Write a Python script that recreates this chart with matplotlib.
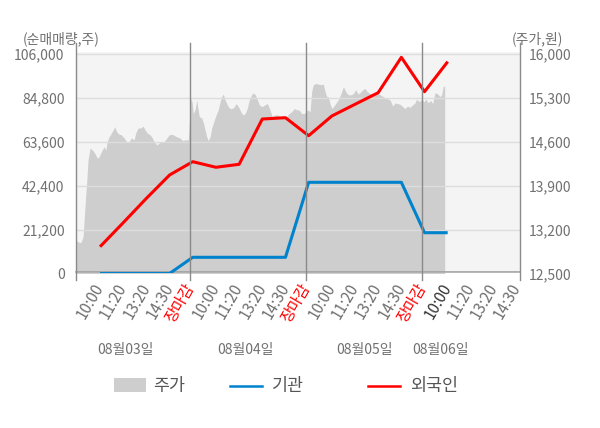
import matplotlib
matplotlib.use("Agg")
import matplotlib.pyplot as plt
from matplotlib.patches import Rectangle
from matplotlib.lines import Line2D

plt.rcParams['font.family'] = ['Noto Sans CJK KR', 'DejaVu Sans']

# ---------------- data ----------------
tick_labels = ["10:00", "11:20", "13:20", "14:30", "장마감"] * 3 + ["10:00", "11:20", "13:20", "14:30"]
tick_pos = [1, 2, 3, 4, 4.9, 6, 7, 8, 9, 9.9, 11, 12, 13, 14, 14.9, 16, 17, 18, 19]
day_labels = ["08월03일", "08월04일", "08월05일", "08월06일"]
day_label_pos = [2.08, 7.26, 12.43, 15.7]
day_bounds = [4.9, 9.9, 14.9]

flow_pos = list(range(1, 17))
foreign = [12940, 24530, 36300, 47570, 54000, 51290, 52730, 74600,
           75240, 66550, 76060, 81700, 87310, 104400, 87800, 102300]
inst = [0, 0, 0, 0, 7820, 7820, 7820, 7820,
        7820, 44040, 44040, 44040, 44040, 44040, 19700, 19700]

price_pos = [
    -0.05, 0.02, 0.17, 0.27, 0.34, 0.43, 0.48, 0.57, 0.67, 0.77, 0.88, 0.96,
    1.03, 1.10, 1.17, 1.25, 1.31, 1.39, 1.49, 1.57, 1.63, 1.72, 1.82, 1.92,
    2.04, 2.15, 2.25, 2.35, 2.47, 2.54, 2.64, 2.76, 2.86, 2.94, 3.04, 3.16,
    3.26, 3.33, 3.45, 3.55, 3.64, 3.76, 3.88, 3.98, 4.08, 4.16,
    4.31, 4.45, 4.56, 4.67, 4.81, 4.91, 4.97, 5.02, 5.10, 5.17, 5.21, 5.28,
    5.39, 5.46, 5.53, 5.60, 5.67, 5.75, 5.82, 5.89, 5.96, 6.03, 6.10, 6.18,
    6.25, 6.32, 6.39, 6.47, 6.53, 6.61, 6.68, 6.78, 6.87, 6.97, 7.07, 7.16,
    7.26, 7.35, 7.44, 7.54, 7.61, 7.70, 7.79, 7.87, 7.98, 8.12, 8.22,
    8.33, 8.43, 8.55, 8.67, 8.77, 8.91, 9.05, 9.15, 9.27, 9.38, 9.49, 9.58,
    9.70, 9.81, 9.96, 10.06, 10.13, 10.20, 10.31, 10.42, 10.53, 10.63, 10.71,
    10.78, 10.85, 10.92, 11.00, 11.07, 11.17, 11.28, 11.40, 11.50, 11.60,
    11.71, 11.83, 11.93, 12.03, 12.14, 12.26,
    12.33, 12.43, 12.53, 12.65, 12.79, 12.94, 13.08, 13.22, 13.37, 13.51,
    13.63, 13.73, 13.83, 13.94, 14.06, 14.16, 14.26, 14.37, 14.49, 14.59,
    14.66, 14.77, 14.88, 14.98, 15.06, 15.16, 15.27, 15.35, 15.45, 15.55,
    15.67, 15.74, 15.81, 15.87]
price = [
    13060, 13010, 12990, 13090, 13510, 13990, 14310, 14500, 14470, 14420, 14340, 14360,
    14420, 14470, 14520, 14470, 14600, 14680, 14740, 14790, 14840, 14760, 14720, 14710,
    14660, 14600, 14600, 14660, 14630, 14740, 14820, 14820, 14850, 14790, 14740, 14710,
    14660, 14600, 14550, 14580, 14600, 14600, 14660, 14710, 14720, 14710,
    14680, 14660, 14620, 14630, 14630, 15290, 15240, 15050, 15110, 15270, 15160, 15000,
    14980, 14900, 14790, 14680, 14620, 14680, 14820, 14900, 14980, 15050, 15110, 15240,
    15320, 15360, 15270, 15210, 15160, 15130, 15130, 15150, 15210, 15160, 15080, 15030,
    15050, 15130, 15270, 15350, 15380, 15350, 15270, 15190, 15160, 15190, 15210,
    15110, 15000, 15030, 15030, 15000, 14980, 15000, 15050, 15080, 15130, 15110, 15110,
    15050, 15050, 15110, 15080, 15400, 15510, 15530, 15520, 15510, 15520, 15400,
    15320, 15320, 15210, 15130, 15160, 15210, 15270, 15370, 15480, 15400,
    15350, 15350, 15370, 15430, 15360, 15400,
    15430, 15450, 15400, 15370, 15360, 15380, 15350, 15320, 15290, 15270,
    15170, 15220, 15210, 15200, 15160, 15130, 15170, 15150, 15190, 15220,
    15280, 15240, 15280, 15240, 15280, 15220, 15260, 15210, 15380, 15370,
    15320, 15350, 15490, 15480]

left_ticks = [0, 21200, 42400, 63600, 84800, 106000]
right_ticks = [12500, 13200, 13900, 14600, 15300, 16000]

# ---------------- figure ----------------
fig = plt.figure(figsize=(6.0, 4.28), dpi=100)
ax2 = fig.add_axes([0.1262, 0.361, 0.7405, 0.5175])   # price (right axis)
ax = ax2.twinx()
ax.yaxis.tick_left()
ax2.yaxis.tick_right()
ax.set_zorder(ax2.get_zorder() + 1)
ax.patch.set_visible(False)
ax2.set_facecolor('#f4f4f4')

gray_txt = '#707070'
axis_col = '#8a8a8a'

ax2.fill_between(price_pos, price, 12500, color='#cecece', linewidth=0)
ax2.set_ylim(12500, 16032)
ax2.set_yticks(right_ticks)
ax2.set_yticklabels([f"{v:,}" for v in right_ticks])

ax.plot(flow_pos, inst, color='#0082cd', linewidth=2.2, solid_capstyle='butt', zorder=3)
ax.plot(flow_pos, foreign, color='#ff0000', linewidth=2.2, solid_capstyle='butt', zorder=4)
ax.set_ylim(0, 106966)
ax.set_yticks(left_ticks)
ax.set_yticklabels([f"{v:,}" for v in left_ticks])
ax.grid(axis='y', color='#dddddd', linewidth=1)
ax.set_axisbelow(False)

for a in (ax, ax2):
    a.set_xlim(-0.05, 19.12)
    for s in a.spines.values():
        s.set_visible(False)

ax.tick_params(axis='y', length=0, pad=8, labelsize=10, labelcolor=gray_txt)
ax2.tick_params(axis='y', length=0, pad=6, labelsize=10, labelcolor=gray_txt)

ax2.set_xticks(tick_pos)
ax2.set_xticklabels(tick_labels)
ax2.tick_params(axis='x', length=0, pad=8, labelsize=11, labelcolor=gray_txt)
ax.tick_params(axis='x', length=0, labelbottom=False, labeltop=False)
for i, lab in enumerate(ax2.get_xticklabels()):
    lab.set_rotation(60)
    lab.set_ha('right')
    lab.set_va('center')
    lab.set_rotation_mode('anchor')
    if tick_labels[i] == "장마감":
        lab.set_color('#ff0000')
    elif i == 15:
        lab.set_color('#333333')

# axis frame lines
ext_lo, ext_hi = -0.03, 1.04
for xp in [-0.05] + day_bounds + [19.12]:
    ax.plot([xp, xp], [ext_lo, ext_hi], transform=ax.get_xaxis_transform(),
            color=axis_col, linewidth=1, clip_on=False, zorder=5)
ax.plot([-0.05, 19.12], [0.005, 0.005], transform=ax.get_xaxis_transform(),
        color='#a0a0a0', linewidth=1.2, clip_on=False, zorder=2)

# day labels
for xp, t in zip(day_label_pos, day_labels):
    ax.text(xp, -0.345, t, transform=ax.get_xaxis_transform(), ha='center', va='center',
            fontsize=10, color=gray_txt)

# axis titles
fig.text(23 / 600, 1 - 38.5 / 428, "(순매매량,주)", ha='left', va='center', fontsize=10, color=gray_txt)
fig.text(563.5 / 600, 1 - 38.5 / 428, "(주가,원)", ha='right', va='center', fontsize=10, color=gray_txt)

# legend (manual)
W, H = 600.0, 428.0
ly = 1 - 385.5 / H
fig.patches.append(Rectangle((114 / W, 1 - 392.3 / H), 31.7 / W, 14 / H, transform=fig.transFigure,
                             facecolor='#cecece', edgecolor='none'))
fig.text(153 / W, ly, "주가", ha='left', va='center', fontsize=12.5, color='#555555')
fig.lines.append(Line2D([230 / W, 261.7 / W], [ly, ly], transform=fig.transFigure,
                        color='#0082cd', linewidth=1.8))
fig.text(271.7 / W, ly, "기관", ha='left', va='center', fontsize=12.5, color='#555555')
fig.lines.append(Line2D([368 / W, 400 / W], [ly, ly], transform=fig.transFigure,
                        color='#ff0000', linewidth=1.8))
fig.text(410 / W, ly, "외국인", ha='left', va='center', fontsize=12.5, color='#555555')

fig.savefig("out.png", dpi=100)
